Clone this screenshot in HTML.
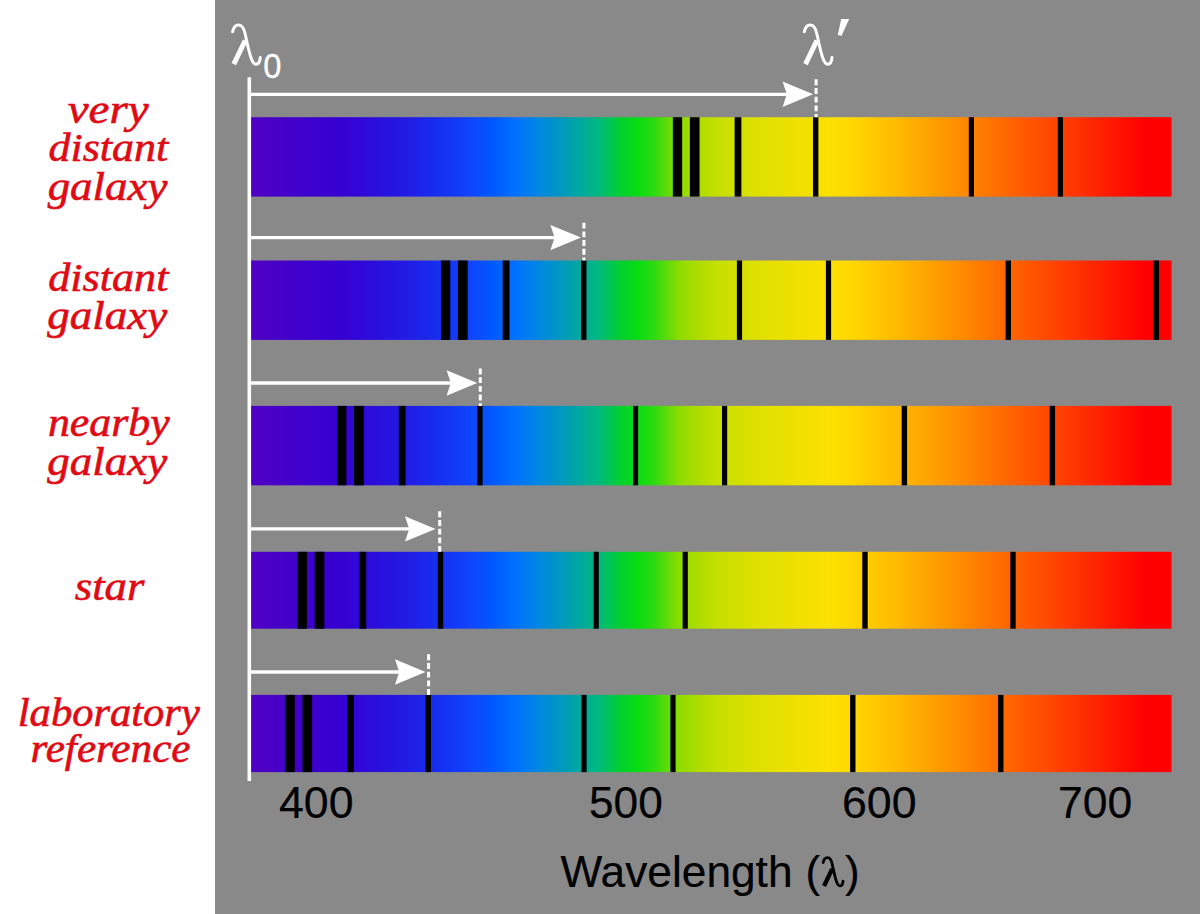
<!DOCTYPE html>
<html><head><meta charset="utf-8"><style>
html,body{margin:0;padding:0;background:#fff;}
svg{display:block;}
</style></head><body>
<svg width="1200" height="914" viewBox="0 0 1200 914">
<defs><linearGradient id="spec" gradientUnits="userSpaceOnUse" x1="251" y1="0" x2="1171.5" y2="0">
<stop offset="0.0000" stop-color="#5000c4"/>
<stop offset="0.0532" stop-color="#4000cc"/>
<stop offset="0.0967" stop-color="#3600d2"/>
<stop offset="0.1619" stop-color="#2418e2"/>
<stop offset="0.2053" stop-color="#1630f0"/>
<stop offset="0.2379" stop-color="#1044fc"/>
<stop offset="0.2618" stop-color="#0058ff"/>
<stop offset="0.2857" stop-color="#0070ff"/>
<stop offset="0.3140" stop-color="#0088e0"/>
<stop offset="0.3466" stop-color="#00a0b0"/>
<stop offset="0.3770" stop-color="#00b880"/>
<stop offset="0.4009" stop-color="#00d030"/>
<stop offset="0.4204" stop-color="#08dd10"/>
<stop offset="0.4389" stop-color="#30da10"/>
<stop offset="0.4661" stop-color="#90dc00"/>
<stop offset="0.4878" stop-color="#b0dc00"/>
<stop offset="0.5095" stop-color="#c8e000"/>
<stop offset="0.5530" stop-color="#e0e000"/>
<stop offset="0.5964" stop-color="#f0e000"/>
<stop offset="0.6290" stop-color="#fce000"/>
<stop offset="0.6507" stop-color="#ffd800"/>
<stop offset="0.7051" stop-color="#ffb800"/>
<stop offset="0.7702" stop-color="#ff8c00"/>
<stop offset="0.8137" stop-color="#ff6c00"/>
<stop offset="0.8789" stop-color="#ff4000"/>
<stop offset="0.9712" stop-color="#ff0000"/>
<stop offset="1.0000" stop-color="#ff0000"/>
</linearGradient></defs>
<rect x="215" y="0" width="985" height="914" fill="#898989"/>
<rect x="251" y="117.2" width="920.5" height="79.4" fill="url(#spec)"/>
<rect x="672.85" y="117.2" width="9.30" height="79.4" fill="#000"/>
<rect x="689.85" y="117.2" width="9.70" height="79.4" fill="#000"/>
<rect x="734.60" y="117.2" width="6.80" height="79.4" fill="#000"/>
<rect x="813.00" y="117.2" width="5.40" height="79.4" fill="#000"/>
<rect x="968.80" y="117.2" width="5.20" height="79.4" fill="#000"/>
<rect x="1057.80" y="117.2" width="5.20" height="79.4" fill="#000"/>
<line x1="249" y1="94.30" x2="787.80" y2="94.30" stroke="#fff" stroke-width="3.3"/>
<polygon points="813.20,94.30 782.60,81.60 786.80,94.30 782.60,107.00" fill="#fff"/>
<line x1="816.10" y1="79.30" x2="816.10" y2="117.20" stroke="#fff" stroke-width="3" stroke-dasharray="5.9 2.8"/>
<rect x="251" y="260.5" width="920.5" height="79.4" fill="url(#spec)"/>
<rect x="440.95" y="260.5" width="9.30" height="79.4" fill="#000"/>
<rect x="457.95" y="260.5" width="9.70" height="79.4" fill="#000"/>
<rect x="502.70" y="260.5" width="6.80" height="79.4" fill="#000"/>
<rect x="581.10" y="260.5" width="5.40" height="79.4" fill="#000"/>
<rect x="736.90" y="260.5" width="5.20" height="79.4" fill="#000"/>
<rect x="825.90" y="260.5" width="5.20" height="79.4" fill="#000"/>
<rect x="1005.60" y="260.5" width="5.40" height="79.4" fill="#000"/>
<rect x="1153.60" y="260.5" width="5.40" height="79.4" fill="#000"/>
<line x1="249" y1="237.60" x2="555.60" y2="237.60" stroke="#fff" stroke-width="3.3"/>
<polygon points="581.00,237.60 550.40,224.90 554.60,237.60 550.40,250.30" fill="#fff"/>
<line x1="583.90" y1="222.70" x2="583.90" y2="260.50" stroke="#fff" stroke-width="3" stroke-dasharray="5.9 2.8"/>
<rect x="251" y="405.9" width="920.5" height="79.4" fill="url(#spec)"/>
<rect x="337.05" y="405.9" width="9.30" height="79.4" fill="#000"/>
<rect x="354.05" y="405.9" width="9.70" height="79.4" fill="#000"/>
<rect x="398.80" y="405.9" width="6.80" height="79.4" fill="#000"/>
<rect x="477.20" y="405.9" width="5.40" height="79.4" fill="#000"/>
<rect x="633.00" y="405.9" width="5.20" height="79.4" fill="#000"/>
<rect x="722.00" y="405.9" width="5.20" height="79.4" fill="#000"/>
<rect x="901.70" y="405.9" width="5.40" height="79.4" fill="#000"/>
<rect x="1049.70" y="405.9" width="5.40" height="79.4" fill="#000"/>
<line x1="249" y1="383.00" x2="451.80" y2="383.00" stroke="#fff" stroke-width="3.3"/>
<polygon points="477.20,383.00 446.60,370.30 450.80,383.00 446.60,395.70" fill="#fff"/>
<line x1="480.30" y1="368.50" x2="480.30" y2="405.90" stroke="#fff" stroke-width="3" stroke-dasharray="5.9 2.8"/>
<rect x="251" y="551.8" width="920.5" height="76.9" fill="url(#spec)"/>
<rect x="297.65" y="551.8" width="9.30" height="76.9" fill="#000"/>
<rect x="314.65" y="551.8" width="9.70" height="76.9" fill="#000"/>
<rect x="359.40" y="551.8" width="6.80" height="76.9" fill="#000"/>
<rect x="437.80" y="551.8" width="5.40" height="76.9" fill="#000"/>
<rect x="593.60" y="551.8" width="5.20" height="76.9" fill="#000"/>
<rect x="682.60" y="551.8" width="5.20" height="76.9" fill="#000"/>
<rect x="862.30" y="551.8" width="5.40" height="76.9" fill="#000"/>
<rect x="1010.30" y="551.8" width="5.40" height="76.9" fill="#000"/>
<line x1="249" y1="528.90" x2="410.20" y2="528.90" stroke="#fff" stroke-width="3.3"/>
<polygon points="435.60,528.90 405.00,516.20 409.20,528.90 405.00,541.60" fill="#fff"/>
<line x1="439.70" y1="511.30" x2="439.70" y2="551.80" stroke="#fff" stroke-width="3" stroke-dasharray="5.9 2.8"/>
<rect x="251" y="694.9" width="920.5" height="77.2" fill="url(#spec)"/>
<rect x="285.45" y="694.9" width="9.30" height="77.2" fill="#000"/>
<rect x="302.45" y="694.9" width="9.70" height="77.2" fill="#000"/>
<rect x="347.20" y="694.9" width="6.80" height="77.2" fill="#000"/>
<rect x="425.60" y="694.9" width="5.40" height="77.2" fill="#000"/>
<rect x="581.40" y="694.9" width="5.20" height="77.2" fill="#000"/>
<rect x="670.40" y="694.9" width="5.20" height="77.2" fill="#000"/>
<rect x="850.10" y="694.9" width="5.40" height="77.2" fill="#000"/>
<rect x="998.10" y="694.9" width="5.40" height="77.2" fill="#000"/>
<line x1="249" y1="672.00" x2="400.20" y2="672.00" stroke="#fff" stroke-width="3.3"/>
<polygon points="425.60,672.00 395.00,659.30 399.20,672.00 395.00,684.70" fill="#fff"/>
<line x1="428.60" y1="654.30" x2="428.60" y2="694.90" stroke="#fff" stroke-width="3" stroke-dasharray="5.9 2.8"/>
<line x1="249.3" y1="77.2" x2="249.3" y2="781" stroke="#fff" stroke-width="3.6"/>
<g fill="none" stroke="#fff" stroke-linecap="round">
<path d="M232.6,31.8 C233.5,27 236,24.8 238.8,24.9 C242.5,25 244.2,29 245.2,34 C246.5,40 248.5,50 250.6,56.5 C252,61 253.5,64.2 256,64.2 C258.5,64.2 260,61 260.3,57.5" stroke-width="3"/>
<path d="M245.2,40.5 L233.8,64.2" stroke-width="5" stroke-linecap="butt"/>
<g transform="translate(571.7,0)">
<path d="M232.6,31.8 C233.5,27 236,24.8 238.8,24.9 C242.5,25 244.2,29 245.2,34 C246.5,40 248.5,50 250.6,56.5 C252,61 253.5,64.2 256,64.2 C258.5,64.2 260,61 260.3,57.5" stroke-width="3"/>
<path d="M245.2,40.5 L233.8,64.2" stroke-width="5" stroke-linecap="butt"/>
</g>
</g>
<polygon points="841.2,19 849.2,19 841.6,35.8 837.8,35" fill="#fff"/>
<text x="263.2" y="77.6" font-family="Liberation Sans, sans-serif" font-size="35" fill="#fff" stroke="#fff" stroke-width="0.3" textLength="18.2" lengthAdjust="spacingAndGlyphs">0</text>
<g font-family="Liberation Sans, sans-serif" fill="#000" stroke="#000" stroke-width="0.2" font-size="44">
<text x="279" y="817.5" textLength="74.5" lengthAdjust="spacingAndGlyphs">400</text>
<text x="589" y="817.5" textLength="73.8" lengthAdjust="spacingAndGlyphs">500</text>
<text x="842" y="817.5" textLength="74.6" lengthAdjust="spacingAndGlyphs">600</text>
<text x="1058" y="817.5" textLength="74.2" lengthAdjust="spacingAndGlyphs">700</text>
<text x="560.5" y="886.7" textLength="232" lengthAdjust="spacingAndGlyphs">Wavelength</text>
<text x="805.5" y="886.7">(</text>
<text x="845" y="886.7">)</text>
</g>
<g transform="translate(655.68,839.72) scale(0.72)" fill="none" stroke="#000">
<path d="M232.6,31.8 C233.5,27 236,24.8 238.8,24.9 C242.5,25 244.2,29 245.2,34 C246.5,40 248.5,50 250.6,56.5 C252,61 253.5,64.2 256,64.2 C258.5,64.2 260,61 260.3,57.5" stroke-width="3.9" stroke-linecap="round"/>
<path d="M245.2,40.5 L233.8,64.2" stroke-width="6"/>
</g>
<g font-family="Liberation Serif, serif" font-style="italic" fill="#e00a14" stroke="#e00a14" stroke-width="0.6" font-size="41" text-anchor="middle">
<text x="108.2" y="123.4" textLength="81" lengthAdjust="spacingAndGlyphs">very</text>
<text x="108.3" y="161.1" textLength="119.7" lengthAdjust="spacingAndGlyphs">distant</text>
<text x="107.5" y="200.2" textLength="119.7" lengthAdjust="spacingAndGlyphs">galaxy</text>
<text x="108.3" y="290.7" textLength="120.3" lengthAdjust="spacingAndGlyphs">distant</text>
<text x="107.3" y="329.3" textLength="120" lengthAdjust="spacingAndGlyphs">galaxy</text>
<text x="108.8" y="436.3" textLength="121.7" lengthAdjust="spacingAndGlyphs">nearby</text>
<text x="107.3" y="475" textLength="120" lengthAdjust="spacingAndGlyphs">galaxy</text>
<text x="109.6" y="600" textLength="69.6" lengthAdjust="spacingAndGlyphs">star</text>
<text x="108.8" y="726" textLength="182" lengthAdjust="spacingAndGlyphs">laboratory</text>
<text x="110.5" y="762" textLength="160.1" lengthAdjust="spacingAndGlyphs">reference</text>
</g>
</svg>
</body></html>
